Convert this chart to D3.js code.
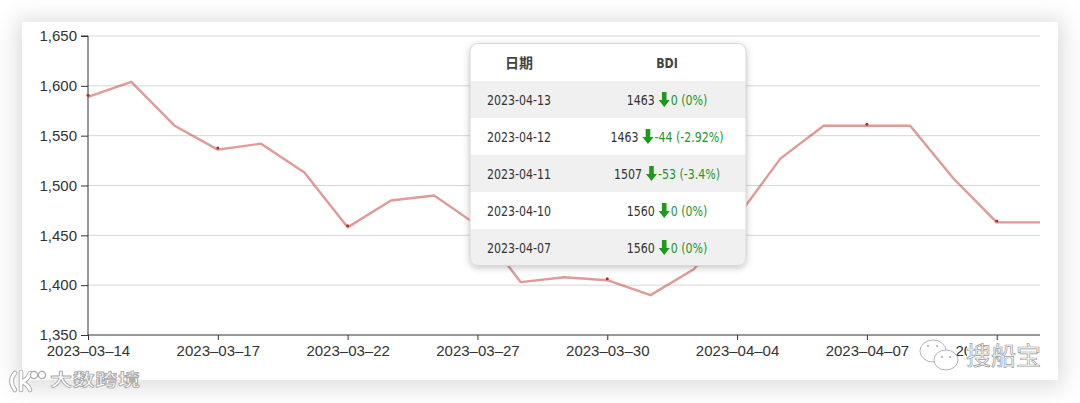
<!DOCTYPE html>
<html>
<head>
<meta charset="utf-8">
<script src="https://cdn.jsdelivr.net/npm/d3@7"></script>
<style>
  html, body { margin: 0; padding: 0; background: #ffffff; }
  body { width: 1080px; height: 403px; position: relative; overflow: hidden; }
  #card { position: absolute; left: 22px; top: 22px; width: 1036px; height: 358px;
          background: #fff; box-shadow: 0 2px 22px 6px rgba(0,0,0,0.13); }
  svg { position: absolute; left: 0; top: 0; }
</style>
</head>
<body>
<div id="card"></div>
<svg id="chart" width="1080" height="403"></svg>
<script>
// ---------- data ----------
const dates = ["2023-03-14","2023-03-15","2023-03-16","2023-03-17","2023-03-20","2023-03-21",
  "2023-03-22","2023-03-23","2023-03-24","2023-03-27","2023-03-28","2023-03-29","2023-03-30",
  "2023-03-31","2023-04-03","2023-04-04","2023-04-05","2023-04-06","2023-04-07","2023-04-10",
  "2023-04-11","2023-04-12","2023-04-13"];
const bdi = [1589,1604,1560,1536,1542,1513,1458,1485,1490,1460,1403,1408,1405,
  1390,1416,1468,1527,1560,1560,1560,1507,1463,1463];
const xTickDates = ["2023-03-14","2023-03-17","2023-03-22","2023-03-27","2023-03-30",
  "2023-04-04","2023-04-07","2023-04-12"];
const yTicks = [1350,1400,1450,1500,1550,1600,1650];

// tooltip table
const tipHeader = ["日期","BDI"];
const tipDates = ["2023-04-13","2023-04-12","2023-04-11","2023-04-10","2023-04-07"];
const tipValues = [1463,1463,1507,1560,1560];
const tipChanges = ["0 (0%)","-44 (-2.92%)","-53 (-3.4%)","0 (0%)","0 (0%)"];

// ---------- chart ----------
const svg = d3.select("#chart");
const x = d3.scalePoint().domain(dates).range([88, 1040]);
const y = d3.scaleLinear().domain([1350, 1650]).range([335, 36]);

// gridlines
svg.append("g").selectAll("line").data(yTicks.filter(d => d !== 1350)).join("line")
  .attr("x1", 88).attr("x2", 1040)
  .attr("y1", d => y(d)).attr("y2", d => y(d))
  .attr("stroke", "#d6d6d6").attr("stroke-width", 1);

const fontAxis = "'Liberation Sans', Arial, Helvetica, sans-serif";

// y axis
const yAxis = svg.append("g").attr("transform", "translate(88,0)")
  .call(d3.axisLeft(y).tickValues(yTicks).tickFormat(d3.format(",")).tickSize(7).tickPadding(4));
yAxis.selectAll("text").attr("font-family", fontAxis).attr("font-size", 15).attr("fill", "#333");
yAxis.selectAll("line").attr("stroke", "#333");
yAxis.select(".domain").attr("stroke", "#333").attr("d", `M-7,${y(1650)}H0V${y(1350)}`);

// x axis
const xAxis = svg.append("g").attr("transform", "translate(0,335)")
  .call(d3.axisBottom(x).tickValues(xTickDates).tickSize(5).tickPadding(5)
    .tickFormat(d => d.replace(/-/g, "–")));
xAxis.selectAll("text").attr("font-family", fontAxis).attr("font-size", 15).attr("fill", "#333");
xAxis.selectAll("line").attr("stroke", "#333");
xAxis.select(".domain").attr("stroke", "#333").attr("d", "M88,0H1040");

// line
const line = d3.line().x((d, i) => x(dates[i])).y(d => y(d));
svg.append("path").datum(bdi)
  .attr("d", line).attr("fill", "none")
  .attr("stroke", "#c23531").attr("stroke-opacity", 0.5).attr("stroke-width", 2.4)
  .attr("stroke-linejoin", "round");

// small markers at labelled dates
svg.append("g").selectAll("circle").data(xTickDates).join("circle")
  .attr("cx", d => x(d)).attr("cy", d => y(bdi[dates.indexOf(d)]) - 1.5)
  .attr("r", 1.5).attr("fill", "#b8282a");

// ---------- tooltip ----------
const defs = svg.append("defs");
const f = defs.append("filter").attr("id", "tipShadow").attr("x", "-10%").attr("y", "-10%")
  .attr("width", "120%").attr("height", "125%");
f.append("feDropShadow").attr("dx", 0).attr("dy", 2).attr("stdDeviation", 3.5)
  .attr("flood-color", "#000").attr("flood-opacity", 0.25);
defs.append("clipPath").attr("id", "tipClip").append("rect")
  .attr("x", 470).attr("y", 43.5).attr("width", 276).attr("height", 222).attr("rx", 8);

const tip = svg.append("g");
tip.append("rect").attr("x", 470).attr("y", 43.5).attr("width", 276).attr("height", 222)
  .attr("rx", 8).attr("fill", "#fff").attr("filter", "url(#tipShadow)");
const tipBody = tip.append("g").attr("clip-path", "url(#tipClip)");
const rowY = i => 81 + 37 * i;
tipBody.selectAll("rect.band").data(tipDates).join("rect").attr("class", "band")
  .attr("x", 470).attr("width", 276).attr("y", (d, i) => rowY(i)).attr("height", 37)
  .attr("fill", (d, i) => i % 2 === 0 ? "#f0f0f0" : "#ffffff");
tip.append("rect").attr("x", 470).attr("y", 43.5).attr("width", 276).attr("height", 222)
  .attr("rx", 8).attr("fill", "none").attr("stroke", "#d8d8d8").attr("stroke-width", 1);

const tipFont = "'DejaVu Sans Condensed', 'DejaVu Sans', sans-serif";
const tipSize = 14;
const squeeze = 0.875;
// condense a text element horizontally to match the reference's narrow face
function condense(sel) {
  const w = sel.node().getComputedTextLength();
  sel.attr("textLength", w * squeeze).attr("lengthAdjust", "spacingAndGlyphs");
  return w * squeeze;
}
const col1 = 519, col2 = 667;
tip.append("text").attr("x", col1).attr("y", 63).attr("dy", "0.35em").attr("text-anchor", "middle")
  .attr("font-family", "'Noto Sans CJK SC', sans-serif").attr("font-size", 14).attr("font-weight", "bold")
  .attr("fill", "#444").text(tipHeader[0]);
const hB = tip.append("text").attr("x", col2).attr("y", 63).attr("dy", "0.35em").attr("text-anchor", "middle")
  .attr("font-family", tipFont).attr("font-size", 14).attr("font-weight", "bold")
  .attr("fill", "#444").text(tipHeader[1]);
condense(hB);

tipDates.forEach((d, i) => {
  const cy = rowY(i) + 18.5;
  const tDate = tip.append("text").attr("x", col1).attr("y", cy).attr("dy", "0.36em").attr("text-anchor", "middle")
    .attr("font-family", tipFont).attr("font-size", tipSize).attr("fill", "#333").text(d);
  condense(tDate);
  const g = tip.append("g");
  const tVal = g.append("text").attr("x", 0).attr("y", cy).attr("dy", "0.36em")
    .attr("font-family", tipFont).attr("font-size", tipSize).attr("fill", "#333").text(tipValues[i]);
  const wVal = condense(tVal);
  const ax = wVal + 4; // arrow left
  const aw = 11, ah = 15, sw = 4.6, hh = 7;
  const cx = ax + aw / 2;
  g.append("path")
    .attr("d", `M${cx - sw/2},${cy - ah/2} H${cx + sw/2} V${cy + ah/2 - hh} H${ax + aw} L${cx},${cy + ah/2} L${ax},${cy + ah/2 - hh} H${cx - sw/2} Z`)
    .attr("fill", "#1c9a1c");
  const tChg = g.append("text").attr("x", ax + aw + 1).attr("y", cy).attr("dy", "0.36em")
    .attr("font-family", tipFont).attr("font-size", tipSize).attr("fill", "#23952a").text(tipChanges[i]);
  const wChg = condense(tChg);
  const total = ax + aw + 1 + wChg;
  g.attr("transform", `translate(${col2 - total / 2},0)`);
});

// ---------- watermarks ----------
const wm = svg.append("g");
// left logo + text
const logoPath = "M15,373 q-7,8 0,17 M21,372 v18 M21,382 q7,-2 9,-9 M21,382 q7,2 9,8";
wm.append("path").attr("d", logoPath)
  .attr("fill", "none").attr("stroke", "#aaa").attr("stroke-width", 4.6).attr("stroke-linecap", "round");
wm.append("path").attr("d", logoPath)
  .attr("fill", "none").attr("stroke", "#fff").attr("stroke-width", 2.8).attr("stroke-linecap", "round");
[[34, 375], [42, 375]].forEach(c => wm.append("circle").attr("cx", c[0]).attr("cy", c[1]).attr("r", 3.6)
  .attr("fill", "#fff").attr("stroke", "#aaa").attr("stroke-width", 1.3));
wm.append("text").attr("x", 50).attr("y", 0).attr("transform", "translate(0,386) scale(1,0.75)")
  .attr("font-family", "'Noto Sans CJK SC', sans-serif").attr("font-size", 22).attr("font-weight", "bold")
  .attr("fill", "#fff").attr("stroke", "#a8a8a8").attr("stroke-width", 1)
  .attr("textLength", 90).text("大数跨境");

// right: wechat icon + text
wm.append("rect").attr("x", 967).attr("y", 341).attr("width", 76).attr("height", 28).attr("fill", "#fff");
wm.append("ellipse").attr("cx", 933).attr("cy", 351).attr("rx", 13).attr("ry", 11)
  .attr("fill", "#fff").attr("stroke", "#aaa").attr("stroke-width", 0.9);
wm.append("ellipse").attr("cx", 946).attr("cy", 360).attr("rx", 12).attr("ry", 10)
  .attr("fill", "#fff").attr("stroke", "#aaa").attr("stroke-width", 0.9);
[[928, 346], [937, 346], [942, 357], [950, 357]].forEach(c => wm.append("circle")
  .attr("cx", c[0]).attr("cy", c[1]).attr("r", 1).attr("fill", "#aaa"));
wm.append("text").attr("x", 966).attr("y", 365)
  .attr("font-family", "'Noto Sans CJK SC', sans-serif").attr("font-size", 25)
  .attr("fill", "#fff").attr("stroke", "#999").attr("stroke-width", 0.7)
  .text("搜船宝");
</script>
</body>
</html>
